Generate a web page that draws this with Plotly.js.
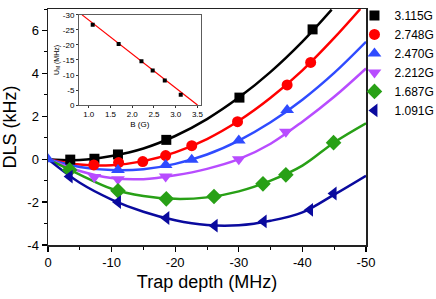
<!DOCTYPE html>
<html><head><meta charset="utf-8">
<script src="https://cdn.plot.ly/plotly-3.0.1.min.js"></script>
<style>html,body{margin:0;padding:0;background:#fff}#chart{width:436px;height:299px}</style>
</head><body><div id="chart"></div>
<script>
// Series labels (field B)
const names = ["3.115G", "2.748G", "2.470G", "2.212G", "1.687G", "1.091G"];
const colors = ["#000000", "#ff0000", "#2f4bff", "#b84cff", "#28a016", "#0a0a9e"];
const symbols = ["square", "circle", "triangle-up", "triangle-down", "diamond", "triangle-left"];

// Measured points: trap depth (MHz) and DLS (kHz)
const xBlack = [-3.5, -7.3, -11.0, -18.6, -30.1, -41.6];
const yBlack = [-0.02, 0.02, 0.22, 0.90, 2.87, 6.05];
const xRed = [-7.2, -11.1, -14.9, -18.5, -22.6, -29.8, -37.6, -41.3];
const yRed = [-0.27, -0.16, -0.11, 0.17, 0.63, 1.75, 3.46, 4.51];
const xBlue = [0, -11.0, -18.5, -22.6, -30.0, -37.6];
const yBlue = [0, -0.50, -0.27, -0.03, 0.87, 2.29];
const xPurple = [-7.3, -11.0, -18.5, -30.0, -37.4];
const yPurple = [-0.83, -0.93, -0.81, 0.0, 1.28];
const xGreen = [-3.4, -11.0, -18.6, -26.1, -33.8, -37.4, -44.9];
const yGreen = [-0.50, -1.47, -1.85, -1.74, -1.15, -0.73, 0.77];
const xNavy = [-3.4, -11.0, -18.6, -26.2, -33.9, -41.2, -44.9];
const yNavy = [-0.81, -2.00, -2.74, -3.10, -2.90, -2.36, -1.60];

// Fitted curves
const fitX = [0, -5, -10, -15, -20, -25, -30, -35, -40, -45, -50];
const fitBlackX = [0, -5, -10, -15, -20, -25, -30, -35, -40, -44.6];
const fitBlack = [0, -0.04, 0.15, 0.50, 1.08, 1.87, 2.87, 4.07, 5.48, 6.97];
const fitRedX = [0, -5, -10, -15, -20, -25, -30, -35, -40, -45, -49.1];
const fitRed = [0, -0.25, -0.28, -0.09, 0.32, 0.94, 1.79, 2.86, 4.14, 5.65, 7.0];
const fitBlue = [0, -0.36, -0.51, -0.47, -0.22, 0.22, 0.87, 1.72, 2.77, 4.02, 5.47];
const fitPurple = [0, -0.55, -0.88, -0.93, -0.75, -0.45, 0.0, 0.72, 1.75, 2.91, 4.23];
const fitGreen = [0, -0.72, -1.38, -1.72, -1.85, -1.78, -1.50, -1.00, -0.30, 0.78, 1.67];
const fitNavy = [0, -1.10, -1.88, -2.45, -2.85, -3.07, -3.08, -2.87, -2.48, -1.65, -0.77];

// Inset: U_M vs B
const insetB = [1.091, 1.687, 2.212, 2.470, 2.748, 3.115];
const insetU = [-26.7, -20.3, -14.6, -11.5, -8.2, -3.4];
const insetLineB = [0.846, 3.5];
const insetLineU = [-30, 0];

const mainXTicks = [0, -10, -20, -30, -40, -50];
const mainXText = ["0", "-10", "-20", "-30", "-40", "-50"];
const mainYTicks = [-4, -2, 0, 2, 4, 6];
const mainYText = ["-4", "-2", "0", "2", "4", "6"];
const insetXTicks = [1.0, 1.5, 2.0, 2.5, 3.0, 3.5];
const insetXText = ["1.0", "1.5", "2.0", "2.5", "3.0", "3.5"];
const insetYTicks = [-30, -25, -20, -15, -10, -5, 0];
const insetYText = ["-30", "-25", "-20", "-15", "-10", "-5", "0"];

const pts = [[xBlack, yBlack], [xRed, yRed], [xBlue, yBlue], [xPurple, yPurple], [xGreen, yGreen], [xNavy, yNavy]];
const fits = [[fitBlackX, fitBlack], [fitRedX, fitRed], [fitX, fitBlue], [fitX, fitPurple], [fitX, fitGreen], [fitX, fitNavy]];
const sizes = [10, 11, 12, 12, 12, 12];

const traces = [];
for (let i = 0; i < 6; i++) {
  traces.push({x: fits[i][0], y: fits[i][1], mode: 'lines', line: {color: colors[i], width: 2.5, shape: 'spline'},
    showlegend: false, hoverinfo: 'skip', cliponaxis: true});
}
for (let i = 0; i < 6; i++) {
  traces.push({x: pts[i][0], y: pts[i][1], mode: 'markers', name: names[i],
    marker: {color: colors[i], symbol: symbols[i], size: sizes[i], line: {width: 0}}});
}
traces.push({x: insetLineB, y: insetLineU, xaxis: 'x2', yaxis: 'y2', mode: 'lines',
  line: {color: '#ff0000', width: 1.2}, showlegend: false});
traces.push({x: insetB, y: insetU, xaxis: 'x2', yaxis: 'y2', mode: 'markers',
  marker: {color: '#000', symbol: 'square', size: 4}, showlegend: false});

const FF = 'Liberation Sans, Arial, sans-serif';
const axFont = {family: FF, size: 13, color: '#000'};
const layout = {
  width: 436, height: 299,
  margin: {l: 48, r: 70, t: 9, b: 54, autoexpand: false},
  paper_bgcolor: '#fff', plot_bgcolor: '#fff',
  showlegend: true,
  legend: {xref: 'container', yref: 'container', x: 0.813, y: 0.997, xanchor: 'left', yanchor: 'top',
    bgcolor: 'rgba(0,0,0,0)', font: {family: FF, size: 12, color: '#000'}, tracegroupgap: 0, itemwidth: 30},
  xaxis: {range: [0, -50], showgrid: false, zeroline: false, tickvals: mainXTicks, ticktext: mainXText,
    ticks: 'outside', ticklen: 5, tickwidth: 1.2, tickcolor: '#000',
    minor: {dtick: 5, tick0: 0, ticks: 'outside', ticklen: 3, tickwidth: 1, tickcolor: '#000'},
    showline: true, linecolor: '#222', linewidth: 1.5, mirror: true, tickfont: axFont,
    title: {text: 'Trap depth (MHz)', font: {family: FF, size: 18, color: '#000'}, standoff: 6}},
  yaxis: {range: [-4, 7], showgrid: false, zeroline: false, tickvals: mainYTicks, ticktext: mainYText,
    ticks: 'outside', ticklen: 5, tickwidth: 1.2, tickcolor: '#000',
    minor: {dtick: 1, tick0: 0, ticks: 'outside', ticklen: 3, tickwidth: 1, tickcolor: '#000'},
    showline: true, linecolor: '#222', linewidth: 1.5, mirror: true, tickfont: axFont,
    title: {text: 'DLS (kHz)', font: {family: FF, size: 18, color: '#000'}, standoff: 8}},
  xaxis2: {domain: [0.0967, 0.481], anchor: 'y2', range: [0.77, 3.58], showgrid: false, zeroline: false,
    tickvals: insetXTicks, ticktext: insetXText, ticks: 'outside', ticklen: 2, tickwidth: 0.8, tickcolor: '#000',
    showline: true, linecolor: '#333', linewidth: 0.8, mirror: true,
    tickfont: {family: FF, size: 8, color: '#000'},
    title: {text: 'B (G)', font: {family: FF, size: 8, color: '#000'}, standoff: 2}},
  yaxis2: {domain: [0.593, 0.975], anchor: 'x2', range: [0, -30], showgrid: false, zeroline: false,
    tickvals: insetYTicks, ticktext: insetYText, ticks: 'outside', ticklen: 2, tickwidth: 0.8, tickcolor: '#000',
    showline: true, linecolor: '#333', linewidth: 0.8, mirror: true,
    tickfont: {family: FF, size: 8, color: '#000'},
    title: {text: 'U<sub>M</sub> (MHz)', font: {family: FF, size: 7, color: '#000'}, standoff: 2}},
  shapes: [{type: 'rect', xref: 'x2 domain', yref: 'y2 domain', x0: 0, x1: 1, y0: 0, y1: 1,
    fillcolor: '#fff', line: {width: 0}, layer: 'below'}]
};
Plotly.newPlot('chart', traces, layout, {displayModeBar: false, staticPlot: true});
</script></body></html>
